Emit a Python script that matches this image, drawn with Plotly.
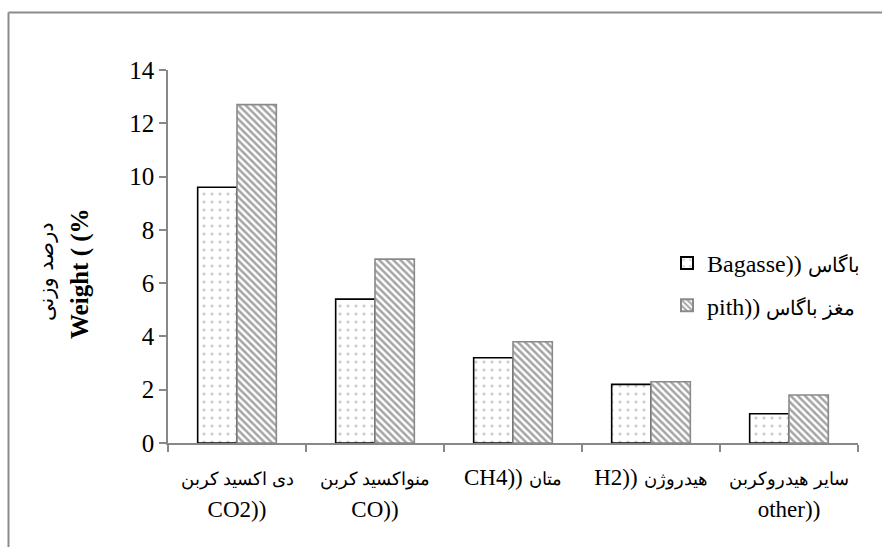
import plotly.graph_objects as go

categories = [
    "<span style='font-size:18px'>دی اکسید کربن</span><br><span style='font-size:23px'>CO2))</span>",
    "<span style='font-size:18px'>منواکسید کربن</span><br><span style='font-size:23px'>CO))</span>",
    "<span style='font-size:23px'>CH4))</span> <span style='font-size:18px'>متان</span>",
    "<span style='font-size:23px'>H2))</span> <span style='font-size:18px'>هیدروژن</span>",
    "<span style='font-size:18px'>سایر هیدروکربن</span><br><span style='font-size:23px'>other))</span>",
]
bagasse = [9.6, 5.4, 3.2, 2.2, 1.1]
pith = [12.7, 6.9, 3.8, 2.3, 1.8]
name_bagasse = "Bagasse)) <span style='font-size:20px'>باگاس</span>"
name_pith = "pith)) <span style='font-size:20px'>مغز باگاس</span>"
y_ticks = [0, 2, 4, 6, 8, 10, 12, 14]

W, H = 883, 547
L, R, T, B = 168, 25, 70, 104
pw, ph = W - L - R, H - T - B

def px(x):
    return (x - L) / pw

def py(y):
    return (H - B - y) / ph

SERIF = "Liberation Serif"

fig = go.Figure()
fig.add_trace(go.Bar(
    x=categories, y=bagasse, name=name_bagasse, legendgroup="a",
    marker=dict(color="white", line=dict(color="black", width=1.6),
                pattern=dict(shape=".", fgcolor="#9a9a9a", bgcolor="white", size=8, solidity=0.12)),
))
fig.add_trace(go.Bar(
    x=categories, y=pith, name=name_pith, legendgroup="b",
    marker=dict(color="white", line=dict(color="#8a8a8a", width=1.6),
                pattern=dict(shape="\\", fgcolor="#4a4a4a", bgcolor="white", size=5, solidity=0.5)),
))

axis_col = "#888888"
fig.update_layout(
    width=W, height=H,
    margin=dict(l=L, r=R, t=T, b=B),
    paper_bgcolor="white", plot_bgcolor="white",
    barmode="group", bargap=0.43, bargroupgap=0,
    font=dict(family=SERIF, size=24, color="black"),
    showlegend=True,
    legend=dict(x=px(667), y=py(241), xanchor="left", yanchor="top",
                bgcolor="rgba(0,0,0,0)", font=dict(size=24, family=SERIF), tracegroupgap=8,
                itemsizing="constant"),
    xaxis=dict(showline=True, linecolor=axis_col, linewidth=1.5,
               ticks="outside", tickson="boundaries", ticklen=7, tickcolor=axis_col, tickwidth=1.5,
               showgrid=False, zeroline=False, tickfont=dict(size=25, family=SERIF),
               ticklabelstandoff=10),
    yaxis=dict(range=[0, 14], tickvals=y_ticks, showline=True, linecolor=axis_col, linewidth=1.5,
               ticks="outside", ticklen=7, tickcolor=axis_col, tickwidth=1.5,
               showgrid=False, zeroline=False, tickfont=dict(size=25, family=SERIF)),
    shapes=[
        dict(type="line", xref="paper", yref="paper", x0=px(8.5), x1=px(8.5), y0=py(12.5), y1=py(548),
             line=dict(color="#8c8c8c", width=2)),
        dict(type="line", xref="paper", yref="paper", x0=px(8.5), x1=px(882), y0=py(12.5), y1=py(12.5),
             line=dict(color="#8c8c8c", width=2)),
    ],
    annotations=[
        dict(text="درصد وزنی", xref="paper", yref="paper", x=px(46), y=py(272), textangle=-90,
             showarrow=False, font=dict(size=21, family="DejaVu Sans"), xanchor="center", yanchor="middle"),
        dict(text="<b>Weight ( (%</b>", xref="paper", yref="paper", x=px(80), y=py(274), textangle=-90,
             showarrow=False, font=dict(size=25, family=SERIF), xanchor="center", yanchor="middle"),
    ],
)

fig.write_html("out.html", config={"displayModeBar": False},
               post_script="document.body.style.margin='0px';document.body.style.overflow='hidden';")
